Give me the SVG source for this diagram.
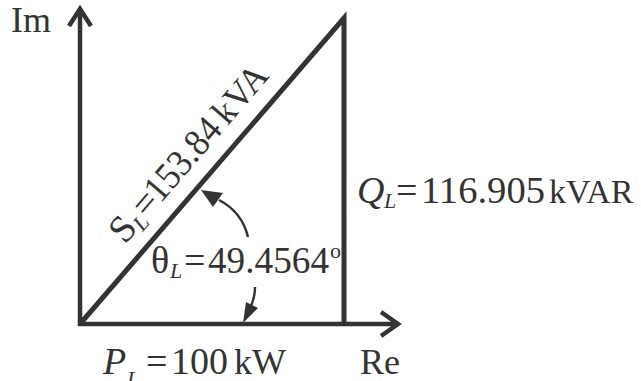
<svg xmlns="http://www.w3.org/2000/svg" width="641" height="381" viewBox="0 0 641 381">
<style>
.ln{stroke:#333;stroke-width:4.5;fill:none;stroke-linecap:butt;stroke-linejoin:miter}
.arc{stroke:#333;stroke-width:2.5;fill:none}
.hd{fill:#333;stroke:none}
text{font-family:"Liberation Serif","Times New Roman",serif;font-size:38px;fill:#333}
.i{font-style:italic}
.s{font-size:22px;font-style:italic}
.d{font-size:22px}
.u{font-size:36px}
.k{font-size:34px}
</style>
<rect width="641" height="381" fill="#fff"/>
<g id="connectors">
<path class="ln" d="M80,326 V9"/>
<path class="ln" d="M69,26 L80,9 L91,26"/>
<path class="ln" d="M78,324 H398"/>
<path class="ln" d="M381,312 L398,324 L381,336"/>
<path class="ln" d="M80,324 L344,18 V324" style="stroke-width:5"/>
<path class="arc" d="M248,237 Q242,212 219,200"/>
<polygon class="hd" points="201,190 223,193 213,207"/>
<path class="arc" d="M255,287 Q255,297 251,306"/>
<polygon class="hd" points="243,323 258,308 246,302"/>
</g>
<g id="im"><text class="u" x="11" y="32">Im</text></g>
<g id="re"><text class="u" x="360" y="374">Re</text></g>
<g id="s" transform="translate(125,245) rotate(-49.2)">
<text x="0" y="0">S</text>
<text class="s" x="21" y="5">L</text>
<text x="34" y="0">=</text>
<text x="54" y="0" textLength="97" lengthAdjust="spacingAndGlyphs">153.84</text>
<text class="u" x="157" y="0">kVA</text>
</g>
<g id="q">
<text class="i" x="357" y="203">Q</text>
<text class="s" x="384" y="208">L</text>
<text x="396" y="203">=</text>
<text x="421" y="203" textLength="124" lengthAdjust="spacingAndGlyphs">116.905</text>
<text class="k" x="549" y="203">kVAR</text>
</g>
<g id="theta">
<text x="151" y="273">θ</text>
<text class="s" x="170" y="278">L</text>
<text x="184" y="273">=</text>
<text x="208" y="273" textLength="121" lengthAdjust="spacingAndGlyphs">49.4564</text>
<text class="d" x="330" y="258">o</text>
</g>
<g id="p">
<text class="i" x="103" y="374">P</text>
<text class="s" x="127" y="386">L</text>
<text x="146" y="374">=</text>
<text x="171" y="374" textLength="57" lengthAdjust="spacingAndGlyphs">100</text>
<text class="u" x="234" y="374">kW</text>
</g>
</svg>
